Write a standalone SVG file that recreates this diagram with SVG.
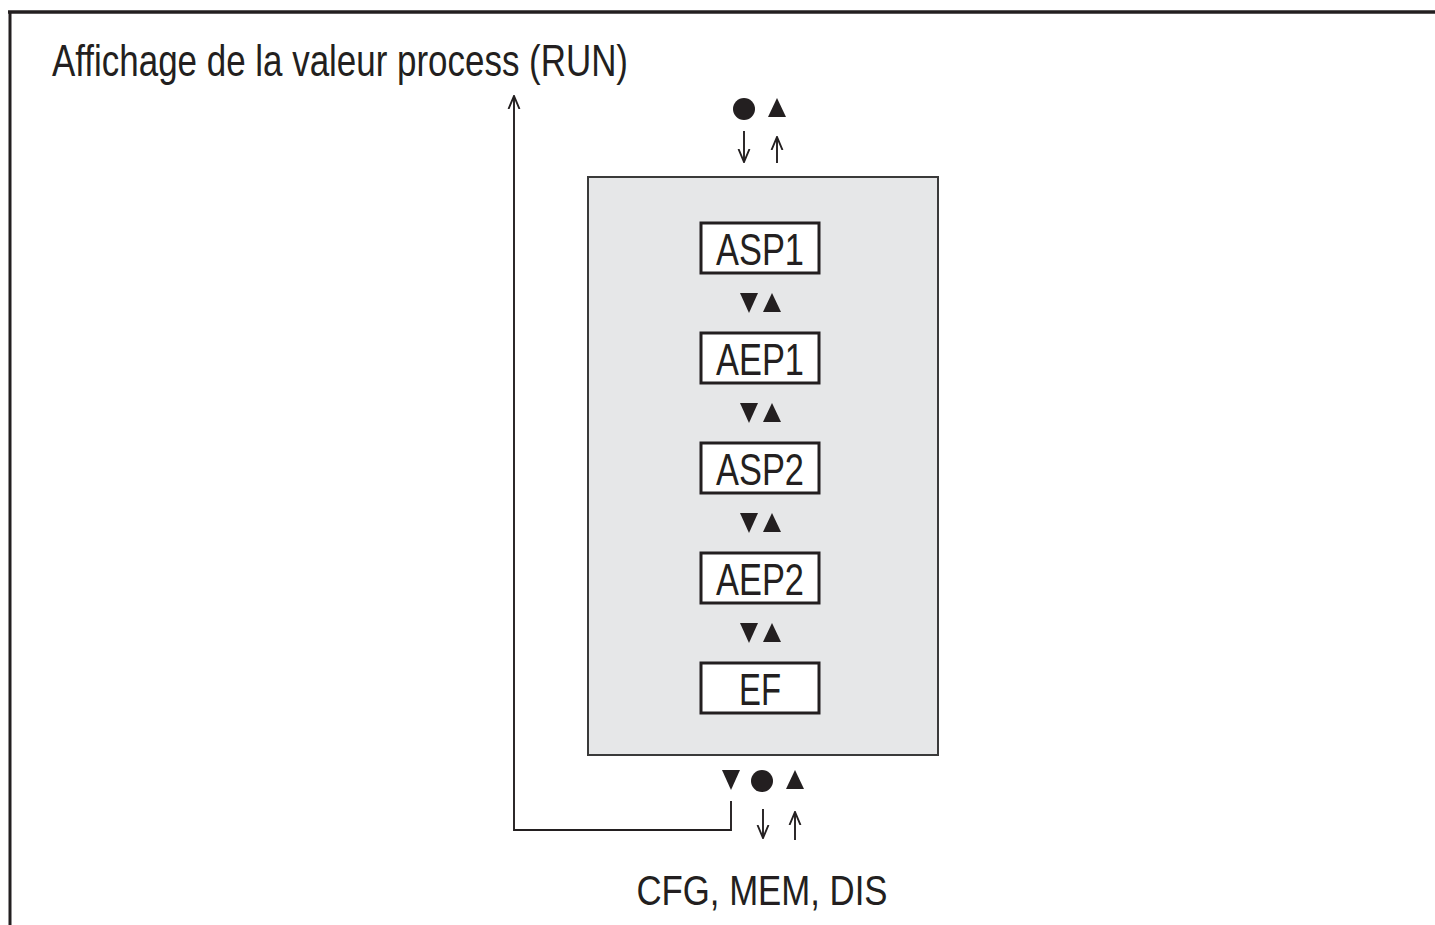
<svg xmlns="http://www.w3.org/2000/svg" width="1435" height="925" viewBox="0 0 1435 925">
<style>
text{font-family:"Liberation Sans",Arial,sans-serif;fill:#231f20}
.lbl{font-size:45px;text-anchor:middle}
.box{fill:#fff;stroke:#231f20;stroke-width:3}
.ln{fill:none;stroke:#231f20;stroke-width:1.9}
.sym{fill:#231f20}
</style>
<defs>
<marker id="ah" viewBox="0 0 14 14" refX="13" refY="7" markerWidth="14" markerHeight="14" markerUnits="userSpaceOnUse" orient="auto">
<path d="M0,1.5 L13,7 L0,12.5" fill="none" stroke="#231f20" stroke-width="1.9"/>
</marker>
<path id="up" d="M-9,9 L0,-10 L9,9 Z"/>
<path id="dn" d="M-9,-10 L0,10 L9,-10 Z"/>
</defs>
<g id="frame">
<line x1="8" y1="12" x2="1435" y2="12" stroke="#231f20" stroke-width="3.5"/>
<line x1="10" y1="11" x2="10" y2="925" stroke="#231f20" stroke-width="3"/>
</g>
<text id="title" x="52" y="76" font-size="45" textLength="576" lengthAdjust="spacingAndGlyphs">Affichage de la valeur process (RUN)</text>
<g id="menu">
<rect x="588" y="177" width="350" height="578" fill="#e6e7e8" stroke="#3a3a3a" stroke-width="2"/>
</g>
<g id="n-asp1"><rect class="box" x="701" y="223" width="118" height="50"/><text class="lbl" x="760" y="265" textLength="88" lengthAdjust="spacingAndGlyphs">ASP1</text></g>
<g id="n-aep1"><rect class="box" x="701" y="333" width="118" height="50"/><text class="lbl" x="760" y="375" textLength="88" lengthAdjust="spacingAndGlyphs">AEP1</text></g>
<g id="n-asp2"><rect class="box" x="701" y="443" width="118" height="50"/><text class="lbl" x="760" y="485" textLength="88" lengthAdjust="spacingAndGlyphs">ASP2</text></g>
<g id="n-aep2"><rect class="box" x="701" y="553" width="118" height="50"/><text class="lbl" x="760" y="595" textLength="88" lengthAdjust="spacingAndGlyphs">AEP2</text></g>
<g id="n-ef"><rect class="box" x="701" y="663" width="118" height="50"/><text class="lbl" x="760" y="705" textLength="42" lengthAdjust="spacingAndGlyphs">EF</text></g>
<g id="nav-symbols" class="sym">
<use href="#dn" x="749" y="303"/><use href="#up" x="772" y="303"/>
<use href="#dn" x="749" y="413"/><use href="#up" x="772" y="413"/>
<use href="#dn" x="749" y="523"/><use href="#up" x="772" y="523"/>
<use href="#dn" x="749" y="633"/><use href="#up" x="772" y="633"/>
<circle cx="744" cy="109" r="11"/><use href="#up" x="777" y="108"/>
<use href="#dn" x="731" y="780"/><circle cx="762" cy="781" r="11"/><use href="#up" x="795" y="780"/>
</g>
<g id="connectors">
<line class="ln" x1="744" y1="131" x2="744" y2="162" marker-end="url(#ah)"/>
<line class="ln" x1="777" y1="163" x2="777" y2="137" marker-end="url(#ah)"/>
<line class="ln" x1="763" y1="809" x2="763" y2="838" marker-end="url(#ah)"/>
<line class="ln" x1="795" y1="840" x2="795" y2="812" marker-end="url(#ah)"/>
<polyline class="ln" points="731,801 731,830 514,830 514,96" marker-end="url(#ah)"/>
</g>
<text id="bottom-label" x="762" y="905" font-size="43" text-anchor="middle" textLength="251" lengthAdjust="spacingAndGlyphs">CFG, MEM, DIS</text>
</svg>
